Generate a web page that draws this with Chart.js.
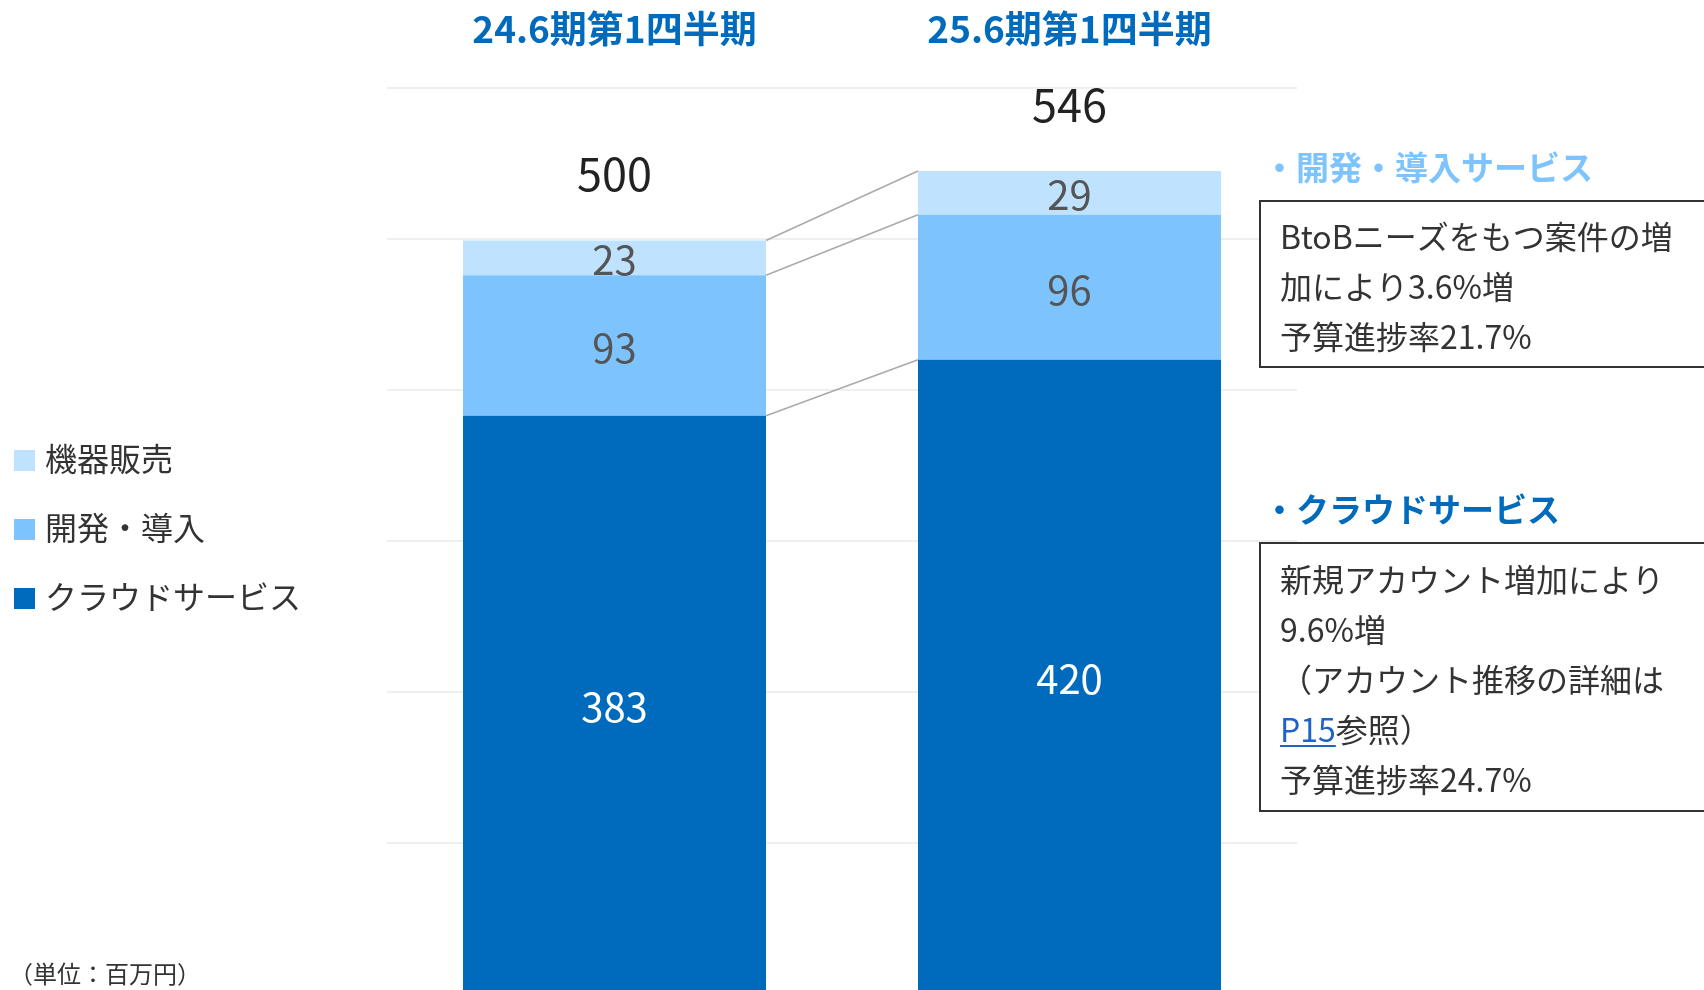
<!DOCTYPE html>
<html lang="ja">
<head>
<meta charset="utf-8">
<title>売上高内訳 第1四半期</title>
<script src="https://cdn.jsdelivr.net/npm/chart.js@4.4.1/dist/chart.umd.min.js"></script>
<style>
  html, body { margin: 0; padding: 0; background: #ffffff; overflow: hidden; }
  #wrap { position: absolute; left: 0; top: 0; width: 1704px; height: 1000px; }
  canvas { display: block; }
</style>
</head>
<body>
<div id="wrap"><canvas id="chart" width="1704" height="1000"></canvas></div>
<script>
// 期間（カテゴリ）
const categories = ['24.6期第1四半期', '25.6期第1四半期'];

// セグメント別売上（単位：百万円）
const cloudService = [383, 420];
const devIntro = [93, 96];
const equipmentSales = [23, 29];

// 合計（百万円未満を含む実額ベースの表示値）
const totals = [500, 546];

const seriesNames = ['クラウドサービス', '開発・導入', '機器販売'];
const seriesColors = ['#006ABC', '#7DC4FE', '#BFE2FE'];
const labelColors = ['#ffffff', '#555555', '#555555'];

// 縦軸
const yMin = 0;
const yMax = 600;
const yStep = 100;

const unitLabel = '（単位：百万円）';

// 右側の注記
const noteDev = {
  title: '・開発・導入サービス',
  color: '#7DC4FE',
  lines: ['BtoBニーズをもつ案件の増', '加により3.6%増', '予算進捗率21.7%']
};
const noteCloud = {
  title: '・クラウドサービス',
  color: '#006ABC',
  lines: ['新規アカウント増加により', '9.6%増', '（アカウント推移の詳細は', 'P15参照）', '予算進捗率24.7%']
};

const FONT = '"Noto Sans CJK JP", "Noto Sans", sans-serif';

// 棒の上に合計、各区間の中央に値、棒の間に区切りの連結線を描く
const overlayPlugin = {
  id: 'overlay',
  afterDatasetsDraw(chart) {
    const ctx = chart.ctx;
    const metas = chart.data.datasets.map((_, d) => chart.getDatasetMeta(d));

    // 連結線
    ctx.save();
    ctx.strokeStyle = '#AAAAAA';
    ctx.lineWidth = 1.6;
    metas.forEach(meta => {
      const a = meta.data[0], b = meta.data[1];
      ctx.beginPath();
      ctx.moveTo(a.x + a.width / 2, a.y);
      ctx.lineTo(b.x - b.width / 2, b.y);
      ctx.stroke();
    });
    ctx.restore();

    // 区間の値
    ctx.save();
    ctx.textAlign = 'center';
    ctx.textBaseline = 'middle';
    ctx.font = '40px ' + FONT;
    metas.forEach((meta, d) => {
      const values = chart.data.datasets[d].data;
      meta.data.forEach((bar, i) => {
        ctx.fillStyle = labelColors[d];
        ctx.fillText(String(values[i]), bar.x, (bar.y + bar.base) / 2 + 2);
      });
    });

    // 合計
    ctx.fillStyle = '#222222';
    ctx.font = '45px ' + FONT;
    const ys = chart.scales.y;
    const topMeta = metas[metas.length - 1];
    topMeta.data.forEach((bar, i) => {
      ctx.fillText(String(totals[i]), bar.x, ys.getPixelForValue(totals[i]) - 65);
    });

    // カテゴリ見出し
    ctx.fillStyle = '#006ABC';
    ctx.font = 'bold 37px ' + FONT;
    const xs = chart.scales.x;
    categories.forEach((c, i) => {
      ctx.fillText(c, xs.getPixelForValue(i), 29);
    });
    ctx.restore();
  },
  afterDraw(chart) {
    const ctx = chart.ctx;
    ctx.save();
    ctx.textBaseline = 'middle';
    ctx.textAlign = 'left';

    // 凡例（上から 機器販売・開発・導入・クラウドサービス）
    ctx.font = '32px ' + FONT;
    const order = [2, 1, 0];
    order.forEach((d, k) => {
      const cy = 460 + k * 69;
      ctx.fillStyle = seriesColors[d];
      ctx.fillRect(14, cy - 10, 21, 21);
      ctx.fillStyle = '#333333';
      ctx.fillText(seriesNames[d], 45, cy - 1);
    });

    // 単位
    ctx.font = '24px ' + FONT;
    ctx.fillStyle = '#333333';
    ctx.fillText(unitLabel, 9, 974);

    // 注記
    const drawNote = (note, titleY, boxTop, boxBottom, firstLineY) => {
      ctx.font = 'bold 33px ' + FONT;
      ctx.fillStyle = note.color;
      ctx.fillText(note.title, 1263, titleY);

      ctx.fillStyle = '#ffffff';
      ctx.fillRect(1260, boxTop, 460, boxBottom - boxTop);
      ctx.strokeStyle = '#333333';
      ctx.lineWidth = 2;
      ctx.strokeRect(1260, boxTop, 460, boxBottom - boxTop);

      ctx.font = '32px ' + FONT;
      note.lines.forEach((line, k) => {
        const y = firstLineY + k * 50;
        if (line.startsWith('P15')) {
          const link = 'P15';
          const w = ctx.measureText(link).width;
          ctx.fillStyle = '#1F63C6';
          ctx.fillText(link, 1280, y);
          ctx.fillRect(1280, y + 15, w, 2);
          ctx.fillStyle = '#333333';
          ctx.fillText(line.slice(3), 1280 + w, y);
        } else {
          ctx.fillStyle = '#333333';
          ctx.fillText(line, 1280, y);
        }
      });
    };
    drawNote(noteDev, 167, 201, 367, 237);
    drawNote(noteCloud, 509, 543, 811, 580);

    ctx.restore();
  }
};

const seriesData = [cloudService, devIntro, equipmentSales];

new Chart(document.getElementById('chart'), {
  type: 'bar',
  data: {
    labels: categories,
    datasets: seriesData.map((values, d) => ({
      label: seriesNames[d],
      data: values,
      backgroundColor: seriesColors[d],
      borderWidth: 0,
      barPercentage: 0.666,
      categoryPercentage: 1.0
    }))
  },
  options: {
    responsive: false,
    animation: false,
    devicePixelRatio: 1,
    layout: { padding: { left: 387, right: 407, top: 88, bottom: 6 } },
    plugins: { legend: { display: false }, tooltip: { enabled: false } },
    scales: {
      x: { stacked: true, display: false },
      y: {
        stacked: true,
        min: yMin,
        max: yMax,
        ticks: { display: false, stepSize: yStep },
        grid: { color: '#EFEFEF', lineWidth: 2, drawTicks: false },
        border: { display: false }
      }
    }
  },
  plugins: [overlayPlugin]
});
</script>
</body>
</html>
